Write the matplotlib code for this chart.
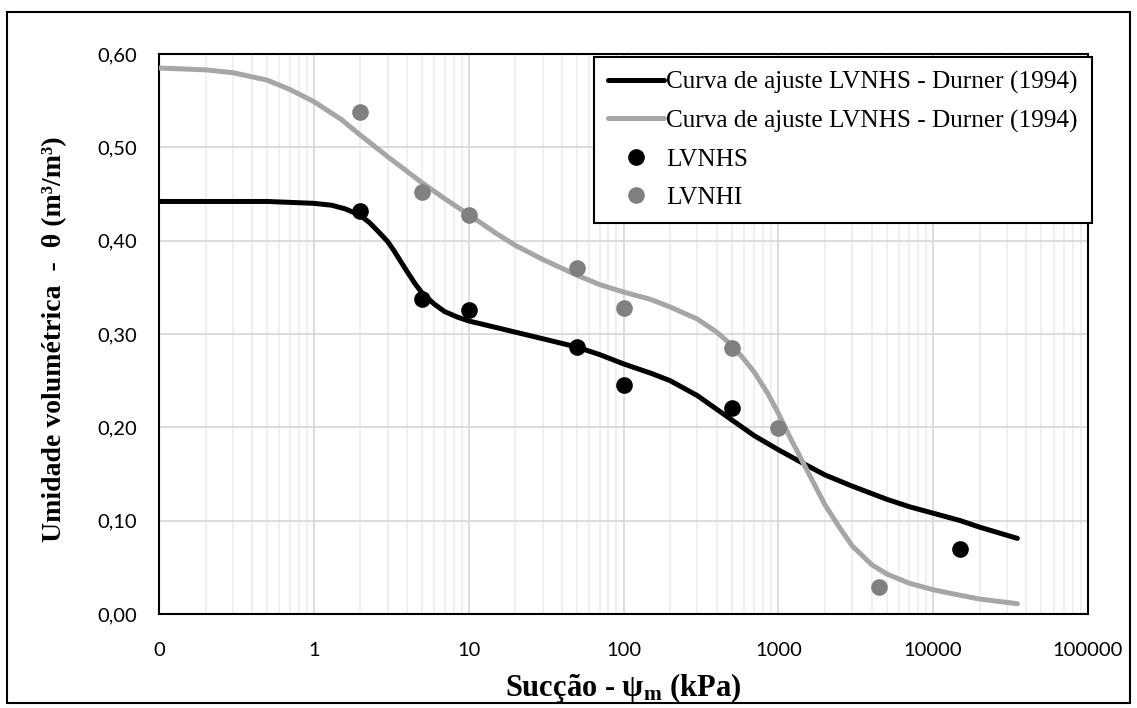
import matplotlib
matplotlib.use("Agg")
import matplotlib.pyplot as plt
from matplotlib.patches import Rectangle
from matplotlib.ticker import FixedLocator, FixedFormatter, LogLocator, NullFormatter

# ---- data ----
x_pts = [2, 5, 10, 50, 100, 500, 15000]
lvnhs = [0.432, 0.338, 0.326, 0.286, 0.245, 0.221, 0.070]

x_pts_i = [2, 5, 10, 50, 100, 500, 1000, 4500]
lvnhi = [0.538, 0.452, 0.427, 0.371, 0.328, 0.285, 0.199, 0.029]

fit_s_x = [0.1, 0.3, 0.5, 1, 1.3, 1.6, 2, 2.3, 2.6, 3, 3.3, 3.6, 4, 4.5, 5, 6, 7,
           8.5, 10, 15, 20, 30, 50, 70, 100, 150, 200, 300, 500, 700, 1000, 1500,
           2000, 3000, 5000, 7000, 10000, 15000, 20000, 35000]
fit_s_y = [0.442, 0.442, 0.442, 0.440, 0.438, 0.434, 0.427, 0.419, 0.410, 0.399,
           0.389, 0.379, 0.367, 0.354, 0.344, 0.332, 0.324, 0.318, 0.314, 0.307,
           0.302, 0.295, 0.286, 0.278, 0.268, 0.258, 0.250, 0.234, 0.208, 0.191,
           0.176, 0.160, 0.149, 0.137, 0.123, 0.115, 0.108, 0.100, 0.093, 0.081]

fit_i_x = [0.1, 0.2, 0.3, 0.5, 0.7, 1, 1.5, 2, 3, 5, 7, 10, 15, 20, 30, 50, 70,
           100, 150, 200, 300, 400, 500, 600, 700, 850, 1000, 1200, 1500, 2000,
           2500, 3000, 4000, 5000, 7000, 10000, 15000, 20000, 35000]
fit_i_y = [0.585, 0.583, 0.580, 0.572, 0.562, 0.549, 0.530, 0.513, 0.490, 0.462,
           0.445, 0.428, 0.408, 0.395, 0.380, 0.363, 0.353, 0.345, 0.337, 0.329,
           0.316, 0.302, 0.288, 0.273, 0.259, 0.237, 0.215, 0.188, 0.157, 0.117,
           0.092, 0.073, 0.053, 0.043, 0.033, 0.026, 0.020, 0.016, 0.011]

x_ticks = [0.1, 1, 10, 100, 1000, 10000, 100000]
x_tick_labels = ["0", "1", "10", "100", "1000", "10000", "100000"]
y_ticks = [0.0, 0.1, 0.2, 0.3, 0.4, 0.5, 0.6]
y_tick_labels = ["0,00", "0,10", "0,20", "0,30", "0,40", "0,50", "0,60"]

legend_labels = ["Curva de ajuste LVNHS - Durner (1994)",
                 "Curva de ajuste LVNHS - Durner (1994)",
                 "LVNHS", "LVNHI"]

# ---- styling ----
plt.rcParams['mathtext.fontset'] = 'custom'
plt.rcParams['mathtext.rm'] = 'Liberation Serif'
plt.rcParams['mathtext.it'] = 'Liberation Serif:italic'
plt.rcParams['mathtext.bf'] = 'Liberation Serif:bold'

fig = plt.figure(figsize=(11.37, 7.08), dpi=100)
ax = fig.add_axes([159 / 1137, 1 - 614 / 708, (1088 - 159) / 1137, (614 - 54) / 708])

ax.plot(fit_s_x, fit_s_y, color="black", lw=3.6, solid_capstyle="round",
        solid_joinstyle="round", label=legend_labels[0], zorder=3)
ax.plot(fit_i_x, fit_i_y, color="#a6a6a6", lw=3.6, solid_capstyle="round",
        solid_joinstyle="round", label=legend_labels[1], zorder=3)
ax.plot(x_pts, lvnhs, "o", color="black", ms=12, mec="none",
        label=legend_labels[2], zorder=4)
ax.plot(x_pts_i, lvnhi, "o", color="#808080", ms=12, mec="none",
        label=legend_labels[3], zorder=4)

ax.set_xscale("log")
ax.set_xlim(0.1, 100000)
ax.set_ylim(0, 0.6)

ax.xaxis.set_major_locator(FixedLocator(x_ticks))
ax.xaxis.set_major_formatter(FixedFormatter(x_tick_labels))
ax.xaxis.set_minor_locator(LogLocator(base=10, subs=range(2, 10), numticks=20))
ax.xaxis.set_minor_formatter(NullFormatter())
ax.yaxis.set_major_locator(FixedLocator(y_ticks))
ax.yaxis.set_major_formatter(FixedFormatter(y_tick_labels))

ax.grid(True, which="major", color="#d9d9d9", lw=1.3, zorder=0)
ax.grid(True, which="minor", axis="x", color="#efefef", lw=1.3, zorder=0)
ax.set_axisbelow(True)

ax.tick_params(which="both", length=0)
ax.tick_params(axis="x", pad=20, labelsize=14.5)
ax.tick_params(axis="y", pad=16, labelsize=14.5)
for lab in ax.get_xticklabels() + ax.get_yticklabels():
    lab.set_fontfamily("Lato")

for sp in ax.spines.values():
    sp.set_color("black")
    sp.set_linewidth(1.5)

ax.set_xlabel(r"Sucção - ψ$_{\mathbf{m}}$ (kPa)", fontfamily="Liberation Serif",
              fontweight="bold", fontsize=22)
ax.xaxis.set_label_coords(0.5, -0.132)
ax.xaxis.label.set_va("center")

ax.set_ylabel("Umidade volumétrica  -  θ (m³/m³)", fontfamily="Liberation Serif",
              fontweight="bold", fontsize=20)
ax.yaxis.set_label_coords(-0.112, 0.49)
ax.yaxis.label.set_va("center")

leg = ax.legend(loc="upper right", bbox_to_anchor=(1.004, 0.995), borderaxespad=0,
                prop={"family": "Liberation Serif", "size": 18.2},
                frameon=True, fancybox=False, framealpha=1, edgecolor="black",
                handlelength=2.2, handletextpad=0.1, labelspacing=0.62,
                borderpad=0.55)
leg.get_frame().set_linewidth(1.5)

fig.patches.append(Rectangle((7 / 1137, 1 - 703 / 708), (1130 - 7) / 1137,
                             (703 - 12) / 708, transform=fig.transFigure,
                             fill=False, edgecolor="black", lw=1.5))

fig.savefig("out.png", dpi=100)
